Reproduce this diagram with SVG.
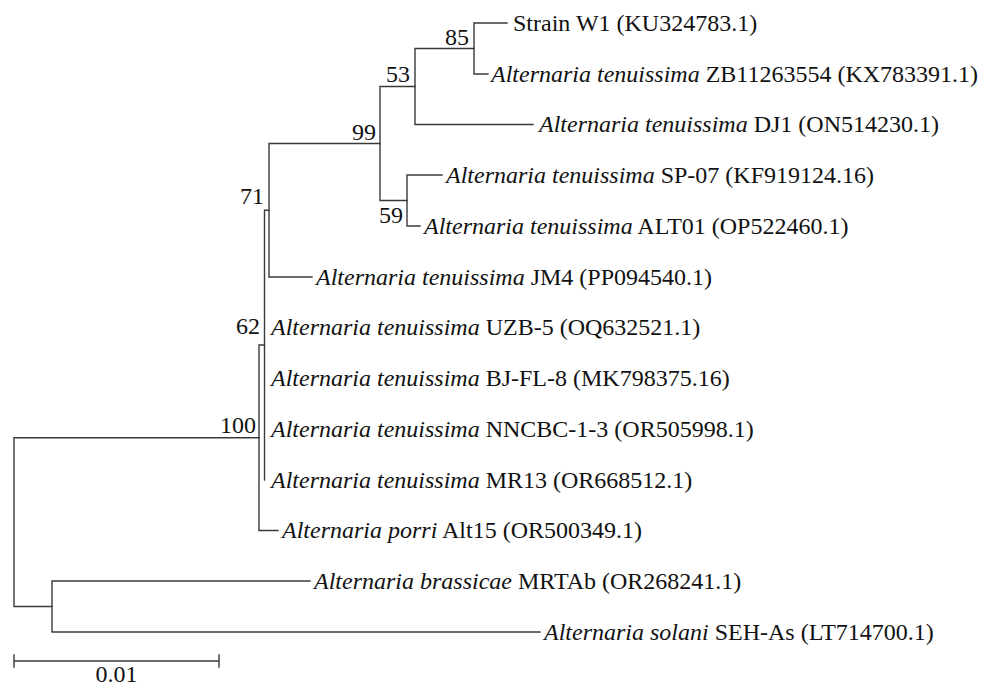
<svg xmlns="http://www.w3.org/2000/svg" width="982" height="686" viewBox="0 0 982 686">
<style>
.br{fill:none;stroke:#3a3a3a;stroke-width:1.4;stroke-linecap:square}
.t{font-family:'Liberation Serif','DejaVu Serif','Times New Roman',serif;font-size:24px;fill:#111}
.it{font-style:italic}
.bs{text-anchor:end}
</style>
<rect width="982" height="686" fill="#ffffff"/>
<g id="connectors">
<path class="br" d="M14,437.75V606.5M14,437.75H259M14,606.5H52"/>
<path class="br" d="M259,345V530.5M259,345H264.5M259,530.5H278"/>
<path class="br" d="M264.5,210.25V480M264.5,210.25H269"/>
<path class="br" d="M269,143.5V277M269,143.5H380M269,277H312"/>
<path class="br" d="M380,86.5V200.5M380,86.5H415M380,200.5H407"/>
<path class="br" d="M415,48.5V124.5M415,48.5H474M415,124.5H533"/>
<path class="br" d="M474,23V74M474,23H507M474,74H488"/>
<path class="br" d="M407,175V226M407,175H442M407,226H420"/>
<path class="br" d="M52,581V632M52,581H310M52,632H540"/>
</g>
<g id="bootstrap" class="t" font-family="Liberation Serif, serif">
<text class="bs" x="469" y="45">85</text>
<text class="bs" x="410" y="82">53</text>
<text class="bs" x="376" y="140">99</text>
<text class="bs" x="264" y="204">71</text>
<text class="bs" x="403" y="223">59</text>
<text class="bs" x="260" y="334">62</text>
<text class="bs" x="256" y="433">100</text>
</g>
<g class="t" font-family="Liberation Serif, serif">
<g id="tip-W1"><text x="513" y="30.5">Strain W1 (KU324783.1)</text></g>
<g id="tip-ZB11263554"><text x="491" y="81.5"><tspan class="it">Alternaria tenuissima</tspan> ZB11263554 (KX783391.1)</text></g>
<g id="tip-DJ1"><text x="539" y="132"><tspan class="it">Alternaria tenuissima</tspan> DJ1 (ON514230.1)</text></g>
<g id="tip-SP07"><text x="446" y="182.5"><tspan class="it">Alternaria tenuissima</tspan> SP-07 (KF919124.16)</text></g>
<g id="tip-ALT01"><text x="424" y="233.5"><tspan class="it">Alternaria tenuissima</tspan> ALT01 (OP522460.1)</text></g>
<g id="tip-JM4"><text x="316" y="284.5"><tspan class="it">Alternaria tenuissima</tspan> JM4 (PP094540.1)</text></g>
<g id="tip-UZB5"><text x="271" y="335"><tspan class="it">Alternaria tenuissima</tspan> UZB-5 (OQ632521.1)</text></g>
<g id="tip-BJFL8"><text x="271" y="385.5"><tspan class="it">Alternaria tenuissima</tspan> BJ-FL-8 (MK798375.16)</text></g>
<g id="tip-NNCBC"><text x="271" y="436.5"><tspan class="it">Alternaria tenuissima</tspan> NNCBC-1-3 (OR505998.1)</text></g>
<g id="tip-MR13"><text x="271" y="487.5"><tspan class="it">Alternaria tenuissima</tspan> MR13 (OR668512.1)</text></g>
<g id="tip-Alt15"><text x="282" y="538"><tspan class="it">Alternaria porri</tspan> Alt15 (OR500349.1)</text></g>
<g id="tip-MRTAb"><text x="314" y="588.5"><tspan class="it">Alternaria brassicae</tspan> MRTAb (OR268241.1)</text></g>
<g id="tip-SEHAs"><text x="544" y="639.5"><tspan class="it">Alternaria solani</tspan> SEH-As (LT714700.1)</text></g>
</g>
<g id="scale-bar">
<path class="br" d="M14,661H219M14,655V667M219,655V667"/>
<text class="t" font-family="Liberation Serif, serif" x="116.5" y="682" text-anchor="middle">0.01</text>
</g>
</svg>
